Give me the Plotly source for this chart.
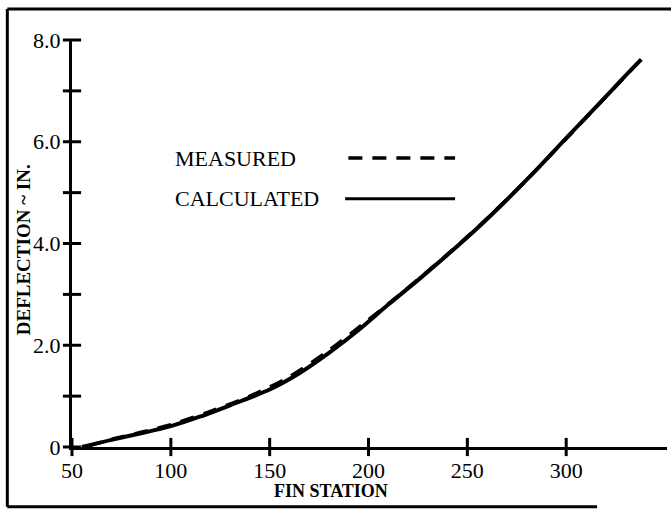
import plotly.graph_objects as go

# ---- data ----
calc_station = [55, 70, 85, 100, 115, 130, 150, 165, 180, 195, 210, 225, 240, 255, 270, 285, 300, 315, 330, 338]
calc_defl = [0.0, 0.14, 0.27, 0.41, 0.60, 0.82, 1.13, 1.45, 1.85, 2.30, 2.80, 3.28, 3.78, 4.30, 4.86, 5.45, 6.07, 6.68, 7.30, 7.62]

meas_station = [58, 70, 85, 100, 120, 140, 160, 180, 200, 220, 240, 260, 280, 300, 320, 336]
meas_defl = [0.02, 0.15, 0.29, 0.44, 0.70, 1.00, 1.38, 1.90, 2.50, 3.13, 3.79, 4.49, 5.25, 6.06, 6.88, 7.54]

x_ticks = [50, 100, 150, 200, 250, 300]
x_tick_labels = ["50", "100", "150", "200", "250", "300"]
y_ticks = [0, 1, 2, 3, 4, 5, 6, 7, 8]
y_tick_labels = ["0", "", "2.0", "", "4.0", "", "6.0", "", "8.0"]

series_names = ["MEASURED", "CALCULATED"]
x_title = "FIN STATION"
y_title = "DEFLECTION ~ IN."

FONT = "Liberation Serif, Times New Roman, serif"
X_RANGE = [50, 351]
Y_RANGE = [0, 8]

fig = go.Figure()

fig.add_trace(go.Scatter(
    x=calc_station, y=calc_defl, mode="lines", name=series_names[1],
    line=dict(color="black", width=4, shape="spline", smoothing=0.8),
    showlegend=False, hoverinfo="skip"))
fig.add_trace(go.Scatter(
    x=meas_station, y=meas_defl, mode="lines", name=series_names[0],
    line=dict(color="black", width=3.5, dash="14px,10px", shape="spline", smoothing=0.8),
    showlegend=False, hoverinfo="skip"))

# crossing tick marks on both axes
fig.add_trace(go.Scatter(
    x=[X_RANGE[0]] * len(y_ticks), y=y_ticks, mode="markers", cliponaxis=False,
    marker=dict(symbol="line-ew", size=13, line=dict(color="black", width=3)),
    showlegend=False, hoverinfo="skip"))
fig.add_trace(go.Scatter(
    x=x_ticks, y=[Y_RANGE[0]] * len(x_ticks), mode="markers", cliponaxis=False,
    marker=dict(symbol="line-ns", size=13, line=dict(color="black", width=3)),
    showlegend=False, hoverinfo="skip"))

fig.update_layout(
    width=671, height=509,
    margin=dict(l=72, r=4, t=40, b=62),
    paper_bgcolor="white", plot_bgcolor="white",
    font=dict(family=FONT, color="black", size=22),
    xaxis=dict(range=X_RANGE, tickvals=x_ticks, ticktext=x_tick_labels, ticks="",
               showline=True, linewidth=3, linecolor="black", showgrid=False, zeroline=False,
               ticklabelstandoff=2,
               tickfont=dict(family=FONT, size=22)),
    yaxis=dict(range=Y_RANGE, tickvals=y_ticks, ticktext=y_tick_labels, ticks="",
               showline=True, linewidth=3, linecolor="black", showgrid=False, zeroline=False,
               ticklabelstandoff=4,
               tickfont=dict(family=FONT, size=22)),
)

annotations = [
    dict(text="<b>%s</b>" % x_title, xref="paper", yref="paper", x=0.4356, y=-0.108,
         xanchor="center", yanchor="middle", showarrow=False,
         font=dict(family=FONT, size=18, color="black")),
    dict(text="<b>%s</b>" % y_title, xref="paper", yref="paper", x=-0.082, y=0.484,
         xanchor="center", yanchor="middle", showarrow=False, textangle=-90,
         font=dict(family=FONT, size=19, color="black")),
    dict(text=series_names[0], xref="paper", yref="paper", x=0.170, y=0.710,
         xanchor="left", yanchor="middle", showarrow=False,
         font=dict(family=FONT, size=22, color="black")),
    dict(text=series_names[1], xref="paper", yref="paper", x=0.170, y=0.610,
         xanchor="left", yanchor="middle", showarrow=False,
         font=dict(family=FONT, size=22, color="black")),
]
fig.update_layout(annotations=annotations)

shapes = [
    # legend samples
    dict(type="line", xref="paper", yref="paper", x0=0.4645, x1=0.6438, y0=0.710, y1=0.710,
         line=dict(color="black", width=3.5, dash="14px,10px")),
    dict(type="line", xref="paper", yref="paper", x0=0.459, x1=0.6438, y0=0.610, y1=0.610,
         line=dict(color="black", width=3)),
    # outer frame (left, top, bottom)
    dict(type="line", xref="paper", yref="paper", x0=-0.1087, x1=-0.1087, y0=-0.147, y1=1.076,
         line=dict(color="black", width=3)),
    dict(type="line", xref="paper", yref="paper", x0=-0.1087, x1=1.01, y0=1.076, y1=1.076,
         line=dict(color="black", width=3)),
    dict(type="line", xref="paper", yref="paper", x0=-0.1087, x1=0.8825, y0=-0.147, y1=-0.147,
         line=dict(color="black", width=3)),
]
fig.update_layout(shapes=shapes)

fig.write_html("out.html", config={"displayModeBar": False},
               post_script="document.body.style.margin='0';document.body.style.padding='0';")
